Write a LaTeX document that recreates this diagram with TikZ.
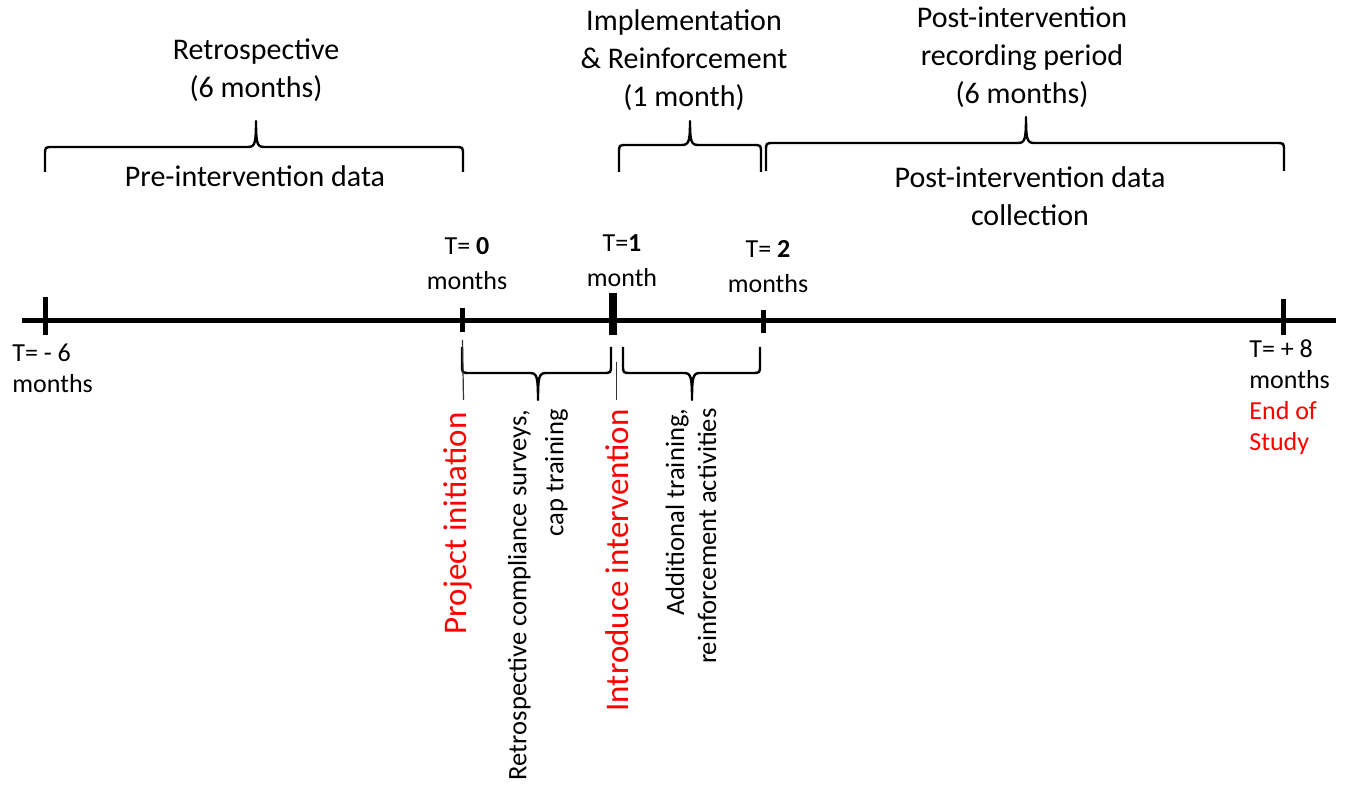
\documentclass[tikz,border=0pt]{standalone}
\usepackage{fontspec}
\setmainfont{Carlito}
\definecolor{myred}{RGB}{255,0,0}
\newcommand\mybrace[7]{%
  \draw[bracestyle] (#1,#5) -- (#1,{#4+#7}) .. controls (#1,#4) .. ({#1+8},#4)
    -- ({#3-8},#4) .. controls ({#3-1},#4) and (#3,{#4-#7/2}) .. (#3,#6)
    .. controls (#3,{#4-#7/2}) and ({#3+1},#4) .. ({#3+8},#4)
    -- ({#2-8},#4) .. controls (#2,#4) .. (#2,{#4+#7}) -- (#2,#5);}
\begin{document}
\begin{tikzpicture}[x=0.5pt,y=-0.5pt,
  bracestyle/.style={line width=1.2pt,line join=round},
  big/.style={font=\fontsize{15}{19}\selectfont,align=center,inner sep=0pt},
  tlab/.style={font=\fontsize{13}{17.5}\selectfont,align=center,inner sep=0pt},
  elab/.style={font=\fontsize{13}{15.5}\selectfont,align=left,inner sep=0pt},
  rot/.style={rotate=90,align=right,anchor=east,inner sep=0pt},
  redrot/.style={font=\fontsize{16.5}{20}\selectfont,rotate=90,anchor=east,inner sep=0pt,text=myred},
  tick/.style={line width=2.5pt},
  thin/.style={line width=0.6pt,black!80}]
\useasboundingbox (0,0) rectangle (1350,785);
% axis
\coordinate (axL) at (22,321);
\coordinate (axR) at (1336,321);
\draw[line width=2.5pt] (axL) -- (axR);
% ticks
\coordinate (tm6a) at (45,297); \coordinate (tm6b) at (45,335);
\coordinate (t0a) at (462,308); \coordinate (t0b) at (462,332);
\coordinate (t1a) at (613,293); \coordinate (t1b) at (613,335);
\coordinate (t2a) at (763,310); \coordinate (t2b) at (763,333);
\coordinate (t8a) at (1283,299); \coordinate (t8b) at (1283,335);
\draw[tick] (tm6a) -- (tm6b);
\draw[tick] (t0a) -- (t0b);
\draw[line width=3.6pt] (t1a) -- (t1b);
\draw[tick] (t2a) -- (t2b);
\draw[tick] (t8a) -- (t8b);
% time labels
\node[elab,anchor=west] (lm6) at (12,368) {T= - 6\\months};
\node[elab,anchor=west] (l8) at (1249,397) {T= + 8\\months\\\textcolor{myred}{End of}\\\textcolor{myred}{Study}};
\node[tlab] (l0) at (467,264) {T= \textbf{0}\\months};
\node[tlab] (l1) at (622,261) {T=\textbf{1}\\month};
\node[tlab] (l2) at (768,267) {T= \textbf{2}\\months};
% upper braces
\mybrace{45}{463}{256}{147}{172}{121}{8}
\mybrace{619}{761}{690}{145}{172}{121}{8}
\mybrace{766}{1284}{1026}{143}{171}{117}{8}
\node[big] (retro) at (256,70) {Retrospective\\(6 months)};
\node[big] (pre) at (255,176) {Pre-intervention data};
\node[big] (impl) at (684,60) {Implementation\\\& Reinforcement\\(1 month)};
\node[big] (postrec) at (1022,57) {Post-intervention\\recording period\\(6 months)};
\node[big] (postdata) at (1030,196) {Post-intervention data\\collection};
% lower braces
\mybrace{462}{611}{538}{373}{347}{400}{-8}
\mybrace{623}{760}{692}{373}{347}{400}{-8}
% thin markers
\coordinate (m0a) at (462.5,340); \coordinate (m0b) at (463.5,400);
\coordinate (m1a) at (616.5,362); \coordinate (m1b) at (616.5,400);
\draw[thin] (m0a) -- (m0b);
\draw[thin] (m1a) -- (m1b);
% rotated labels
\node[redrot] (proj) at (458,412) {Project initiation};
\node[rot,font=\fontsize{13.3}{18.5}\selectfont] (retrocomp) at (538,409) {Retrospective compliance surveys,\\cap training};
\node[redrot] (intro) at (617,409) {Introduce intervention};
\node[rot,font=\fontsize{13.3}{16}\selectfont] (addtr) at (691,408) {Additional training,\\reinforcement activities};
\end{tikzpicture}
\end{document}
